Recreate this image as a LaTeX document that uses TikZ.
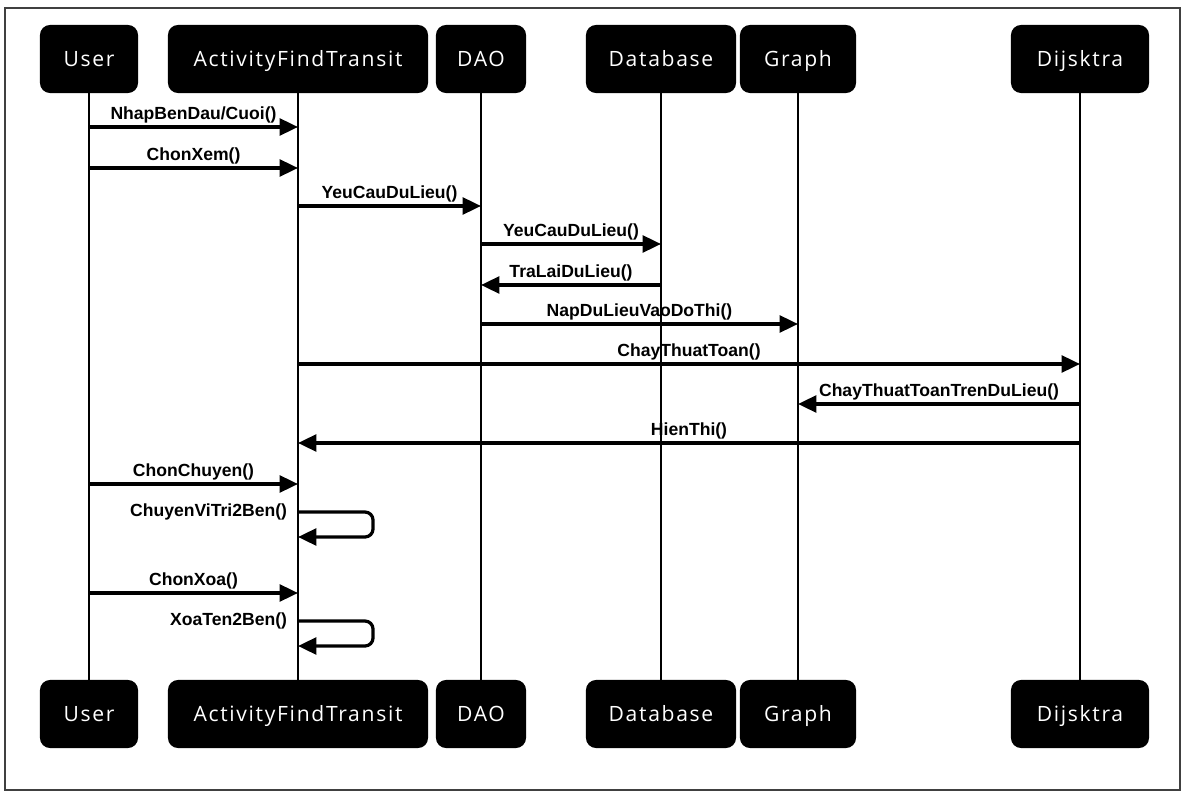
\documentclass[tikz,border=0pt]{standalone}
\usepackage{fontspec}
\setmainfont{Liberation Sans}
\newfontfamily\boxfont[LetterSpace=8]{Open Sans}
\usepackage{tikz}
\usetikzlibrary{positioning, arrows.meta, calc}

\begin{document}
\begin{tikzpicture}[x=0.025cm, y=-0.025cm,
    every node/.style={font=\bfseries\fontsize{12.5}{14}\selectfont},
    actor/.style={fill=black, rounded corners=0.25cm, minimum height=1.7cm, inner sep=0pt,
      text height=10.7pt, text depth=0pt,
      text=white, font=\boxfont\fontsize{15}{18}\selectfont},
    life/.style={line width=1.3pt},
    msg/.style={line width=2.3pt, -{Triangle[length=0.46cm, width=0.42cm]}},
    lbl/.style={above, inner sep=1.5pt}]
    \useasboundingbox (0,0) rectangle (1183,793);
    % Frame
    \draw[line width=0.8pt, black!75] (5,8) rectangle (1180,790);

    % Participants (top row)
    \node[actor, minimum width=2.45cm] (user) at (89,59) {User};
    \node[actor, minimum width=6.5cm] (aft) at (298,59) {ActivityFindTransit};
    \node[actor, minimum width=2.25cm] (dao) at (481,59) {DAO};
    \node[actor, minimum width=3.75cm] (db) at (661,59) {Database};
    \node[actor, minimum width=2.9cm] (graph) at (798,59) {Graph};
    \node[actor, minimum width=3.45cm] (dij) at (1080,59) {Dijsktra};

    % Participants (bottom row)
    \node[actor, minimum width=2.45cm] (user-bot) at (89,714) {User};
    \node[actor, minimum width=6.5cm] (aft-bot) at (298,714) {ActivityFindTransit};
    \node[actor, minimum width=2.25cm] (dao-bot) at (481,714) {DAO};
    \node[actor, minimum width=3.75cm] (db-bot) at (661,714) {Database};
    \node[actor, minimum width=2.9cm] (graph-bot) at (798,714) {Graph};
    \node[actor, minimum width=3.45cm] (dij-bot) at (1080,714) {Dijsktra};

    % Lifelines
    \foreach \n in {user, aft, dao, db, graph, dij} {
      \draw[life] (\n.south) -- (\n-bot.north);
    }

    % Message heights
    \coordinate (m1) at (0,127);
    \coordinate (m2) at (0,168);
    \coordinate (m3) at (0,206);
    \coordinate (m4) at (0,244);
    \coordinate (m5) at (0,285);
    \coordinate (m6) at (0,324);
    \coordinate (m7) at (0,364);
    \coordinate (m8) at (0,404);
    \coordinate (m9) at (0,443);
    \coordinate (m10) at (0,484);
    \coordinate (s1) at (0,512);
    \coordinate (s1end) at (0,537);
    \coordinate (m11) at (0,593);
    \coordinate (s2) at (0,621);
    \coordinate (s2end) at (0,646);

    % Messages
    \draw[msg] (user |- m1) -- (aft |- m1) node[lbl, midway] {NhapBenDau/Cuoi()};
    \draw[msg] (user |- m2) -- (aft |- m2) node[lbl, midway] {ChonXem()};
    \draw[msg] (aft |- m3) -- (dao |- m3) node[lbl, midway] {YeuCauDuLieu()};
    \draw[msg] (dao |- m4) -- (db |- m4) node[lbl, midway] {YeuCauDuLieu()};
    \draw[msg] (db |- m5) -- (dao |- m5) node[lbl, midway] {TraLaiDuLieu()};
    \draw[msg] (dao |- m6) -- (graph |- m6) node[lbl, midway] {NapDuLieuVaoDoThi()};
    \draw[msg] (aft |- m7) -- (dij |- m7) node[lbl, midway] {ChayThuatToan()};
    \draw[msg] (dij |- m8) -- (graph |- m8) node[lbl, midway] {ChayThuatToanTrenDuLieu()};
    \draw[msg] (dij |- m9) -- (aft |- m9) node[lbl, midway] {HienThi()};
    \draw[msg] (user |- m10) -- (aft |- m10) node[lbl, midway] {ChonChuyen()};
    \draw[msg] (user |- m11) -- (aft |- m11) node[lbl, midway] {ChonXoa()};

    % Self calls
    \draw[msg, rounded corners=0.2cm] (aft |- s1) -- ++(75,0) -- ++(0,25) -- (aft |- s1end);
    \node[left=0.15cm of aft |- s1] (self1) {ChuyenViTri2Ben()};
    \draw[msg, rounded corners=0.2cm] (aft |- s2) -- ++(75,0) -- ++(0,25) -- (aft |- s2end);
    \node[left=0.15cm of aft |- s2] (self2) {XoaTen2Ben()};
\end{tikzpicture}
\end{document}
